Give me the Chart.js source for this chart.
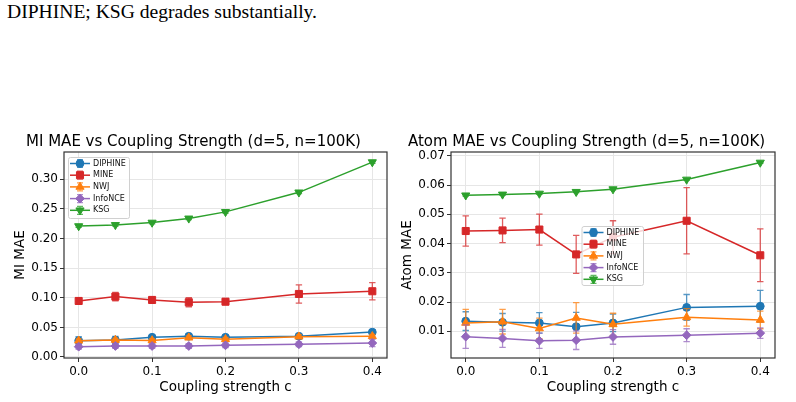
<!DOCTYPE html>
<html>
<head>
<meta charset="utf-8">
<script src="https://cdn.jsdelivr.net/npm/chart.js@4.4.1/dist/chart.umd.min.js"></script>
<style>
body { margin: 0; background: #fff; width: 796px; height: 402px; overflow: hidden; position: relative; }
#caption { position: absolute; left: 7px; top: 0; font-family: "Liberation Serif", "Times New Roman", serif; font-size: 19.6px; line-height: 23px; color: #000; white-space: nowrap; }
.box { position: absolute; top: 120px; width: 398px; height: 282px; }
</style>
</head>
<body>
<div id="caption">DIPHINE; KSG degrades substantially.</div>
<div class="box" style="left:0"><canvas id="mi" width="398" height="282"></canvas></div>
<div class="box" style="left:398px"><canvas id="atom" width="398" height="282"></canvas></div>
<script>
// x values and tick labels
const coupling = [0, 0.05, 0.1, 0.15, 0.2, 0.3, 0.4];
const xTicks = [0, 0.1, 0.2, 0.3, 0.4];
const miTicks = [0, 0.05, 0.1, 0.15, 0.2, 0.25, 0.3];
const atomTicks = [0.01, 0.02, 0.03, 0.04, 0.05, 0.06, 0.07];

const methods = ['DIPHINE', 'MINE', 'NWJ', 'InfoNCE', 'KSG'];
const colors = ['#1f77b4', '#d62728', '#ff7f0e', '#9467bd', '#2ca02c'];
const errColors = ['rgba(31,119,180,0.75)', 'rgba(214,39,40,0.75)', 'rgba(255,127,14,0.75)', 'rgba(148,103,189,0.75)', 'rgba(44,160,44,0.75)'];
const styles = ['circle', 'rect', 'triangle', 'rectRot', 'triangle'];
const rotations = [0, 0, 0, 0, 180];
const radii = [3.9, 5, 4.7, 4.4, 4.7];

// MI MAE panel
const miDiphine    = [0.0275, 0.0287, 0.0333, 0.0350, 0.0333, 0.0350, 0.0420];
const miDiphineErr = [0.007, 0.006, 0.003, 0.003, 0.003, 0.003, 0.004];
const miMine       = [0.0946, 0.1020, 0.0963, 0.0924, 0.0934, 0.1064, 0.1110];
const miMineErr    = [0.005, 0.007, 0.005, 0.0076, 0.005, 0.0155, 0.0146];
const miNwj        = [0.0275, 0.0287, 0.0280, 0.0326, 0.0300, 0.0343, 0.0350];
const miNwjErr     = [0.003, 0.003, 0.003, 0.003, 0.003, 0.003, 0.003];
const miInfonce    = [0.0174, 0.0186, 0.0186, 0.0186, 0.0198, 0.0215, 0.0236];
const miInfonceErr = [0.004, 0.004, 0.004, 0.004, 0.004, 0.004, 0.006];
const miKsg        = [0.221, 0.223, 0.227, 0.234, 0.245, 0.278, 0.329];
const miKsgErr     = [0.002, 0.002, 0.002, 0.002, 0.002, 0.002, 0.002];

// Atom MAE panel
const atomDiphine    = [0.0135, 0.0131, 0.0129, 0.0116, 0.0129, 0.0182, 0.0186];
const atomDiphineErr = [0.0032, 0.0030, 0.0035, 0.0049, 0.0030, 0.0044, 0.0054];
const atomMine       = [0.0443, 0.0445, 0.0448, 0.0363, 0.0422, 0.0478, 0.0360];
const atomMineErr    = [0.0052, 0.0042, 0.0053, 0.0065, 0.0056, 0.0113, 0.0090];
const atomNwj        = [0.0129, 0.0133, 0.0110, 0.0146, 0.0124, 0.0148, 0.0139];
const atomNwjErr     = [0.0046, 0.0042, 0.0035, 0.0052, 0.0038, 0.0030, 0.0030];
const atomInfonce    = [0.0082, 0.0076, 0.0068, 0.0070, 0.0081, 0.0087, 0.0094];
const atomInfonceErr = [0.0040, 0.0031, 0.0026, 0.0032, 0.0025, 0.0022, 0.0018];
const atomKsg        = [0.0565, 0.0568, 0.0571, 0.0577, 0.0586, 0.0619, 0.0677];
const atomKsgErr     = [0.0003, 0.0003, 0.0003, 0.0003, 0.0003, 0.0003, 0.0003];

function makeDatasets(values, errors) {
	return methods.map((name, i) => ({
		label: name,
		data: coupling.map((c, j) => ({x: c, y: values[i][j]})),
		errors: errors[i],
		errColor: errColors[i],
		borderColor: colors[i],
		backgroundColor: colors[i],
		borderWidth: 1.5,
		pointStyle: styles[i],
		pointRotation: rotations[i],
		pointRadius: radii[i],
		pointBorderWidth: 1,
		pointBorderColor: colors[i],
		pointBackgroundColor: colors[i],
		order: methods.length - i,
		clip: false
	}));
}

// error bars, drawn under each series line
const errorBars = {
	id: 'errorBars',
	beforeDatasetDraw(chart, args) {
		const ds = chart.data.datasets[args.index];
		if (!ds.errors) return;
		const ctx = chart.ctx, y = chart.scales.y;
		ctx.save();
		ctx.strokeStyle = ds.errColor;
		ctx.lineWidth = 1.3;
		args.meta.data.forEach((pt, j) => {
			const v = ds.data[j].y, e = ds.errors[j];
			const top = y.getPixelForValue(v + e), bot = y.getPixelForValue(v - e);
			ctx.beginPath();
			ctx.moveTo(pt.x, top); ctx.lineTo(pt.x, bot);
			ctx.moveTo(pt.x - 3.2, top); ctx.lineTo(pt.x + 3.2, top);
			ctx.moveTo(pt.x - 3.2, bot); ctx.lineTo(pt.x + 3.2, bot);
			ctx.stroke();
		});
		ctx.restore();
	}
};

// axes frame (all four spines)
const frame = {
	id: 'frame',
	afterDatasetsDraw(chart) {
		const a = chart.chartArea, ctx = chart.ctx;
		ctx.save();
		ctx.strokeStyle = '#333';
		ctx.lineWidth = 1.2;
		ctx.strokeRect(a.left, a.top, a.right - a.left, a.bottom - a.top);
		ctx.restore();
	}
};

// matplotlib-like legend inside the axes
const boxLegend = {
	id: 'boxLegend',
	afterDraw(chart, args, opts) {
		const a = chart.chartArea, ctx = chart.ctx;
		const x0 = a.left + opts.dx, y0 = a.top + opts.dy;
		ctx.save();
		ctx.fillStyle = 'rgba(255,255,255,0.8)';
		ctx.strokeStyle = '#d0d0d0';
		ctx.lineWidth = 1;
		ctx.beginPath();
		ctx.roundRect(x0 + 0.5, y0 + 0.5, opts.w, opts.h, 2);
		ctx.fill();
		ctx.stroke();
		ctx.font = '8px "DejaVu Sans"';
		ctx.textBaseline = 'middle';
		chart.data.datasets.forEach((ds, i) => {
			const yy = y0 + 6.5 + i * 11.7;
			const lx = x0 + 2;
			ctx.strokeStyle = ds.borderColor;
			ctx.lineWidth = 1.5;
			ctx.beginPath();
			ctx.moveTo(lx, yy); ctx.lineTo(lx + 20, yy);
			ctx.stroke();
			ctx.strokeStyle = ds.errColor;
			ctx.lineWidth = 1.2;
			ctx.beginPath();
			ctx.moveTo(lx + 10, yy - 4); ctx.lineTo(lx + 10, yy + 4);
			ctx.moveTo(lx + 7, yy - 4); ctx.lineTo(lx + 13, yy - 4);
			ctx.moveTo(lx + 7, yy + 4); ctx.lineTo(lx + 13, yy + 4);
			ctx.stroke();
			ctx.fillStyle = ds.backgroundColor;
			ctx.strokeStyle = ds.borderColor;
			ctx.lineWidth = 1;
			Chart.helpers.drawPoint(ctx, {pointStyle: ds.pointStyle, rotation: ds.pointRotation, radius: ds.pointRadius, borderWidth: 1}, lx + 10, yy);
			ctx.fillStyle = '#111';
			ctx.fillText(ds.label, lx + 23, yy);
		});
		ctx.restore();
	}
};

function makeChart(id, title, yLabel, values, errors, yTicks, yMin, yMax, cfg) {
	const font = {family: '"DejaVu Sans"'};
	return new Chart(document.getElementById(id), {
		type: 'line',
		data: {datasets: makeDatasets(values, errors)},
		plugins: [errorBars, frame, boxLegend],
		options: {
			responsive: false,
			animation: false,
			layout: {padding: {left: 0, right: cfg.right, top: 0, bottom: 0}},
			plugins: {
				legend: {display: false},
				tooltip: {enabled: false},
				title: {
					display: true, text: title, color: '#000',
					font: {family: '"DejaVu Sans"', size: 15, weight: 'normal'},
					padding: {top: 12.7, bottom: 1.3}
				},
				boxLegend: cfg.legend
			},
			scales: {
				x: {
					type: 'linear', min: -0.02, max: 0.42,
					afterBuildTicks: s => { s.ticks = xTicks.map(v => ({value: v})); },
					afterFit: s => { s.height = 44; },
					ticks: {color: '#000', font: {...font, size: 12}, padding: 3, maxRotation: 0, callback: v => v.toFixed(1)},
					grid: {color: '#e6e6e6', tickColor: '#333', tickLength: 4, lineWidth: 1},
					border: {display: false},
					title: {display: true, text: 'Coupling strength c', color: '#000', font: {...font, size: 13.5}, padding: {top: 0, bottom: 6}}
				},
				y: {
					type: 'linear', min: yMin, max: yMax,
					afterBuildTicks: s => { s.ticks = yTicks.map(v => ({value: v})); },
					afterFit: s => { s.width = cfg.left; },
					ticks: {color: '#000', font: {...font, size: 12}, padding: 2, callback: v => v.toFixed(2)},
					grid: {color: '#e6e6e6', tickColor: '#333', tickLength: 4, lineWidth: 1},
					border: {display: false},
					title: {display: true, text: yLabel, color: '#000', font: {...font, size: 13.5}, padding: {top: cfg.titlePad, bottom: 0}}
				}
			}
		}
	});
}

makeChart('mi', 'MI MAE vs Coupling Strength (d=5, n=100K)', 'MI MAE',
	[miDiphine, miMine, miNwj, miInfonce, miKsg],
	[miDiphineErr, miMineErr, miNwjErr, miInfonceErr, miKsgErr],
	miTicks, -0.0017, 0.3461,
	{left: 64, right: 11, titlePad: 12, legend: {dx: 4, dy: 5, w: 61, h: 61}});

makeChart('atom', 'Atom MAE vs Coupling Strength (d=5, n=100K)', 'Atom MAE',
	[atomDiphine, atomMine, atomNwj, atomInfonce, atomKsg],
	[atomDiphineErr, atomMineErr, atomNwjErr, atomInfonceErr, atomKsgErr],
	atomTicks, 0.0009, 0.0713,
	{left: 53, right: 21, titlePad: 1.5, legend: {dx: 130.5, dy: 74, w: 61.5, h: 59}});
</script>
</body>
</html>
